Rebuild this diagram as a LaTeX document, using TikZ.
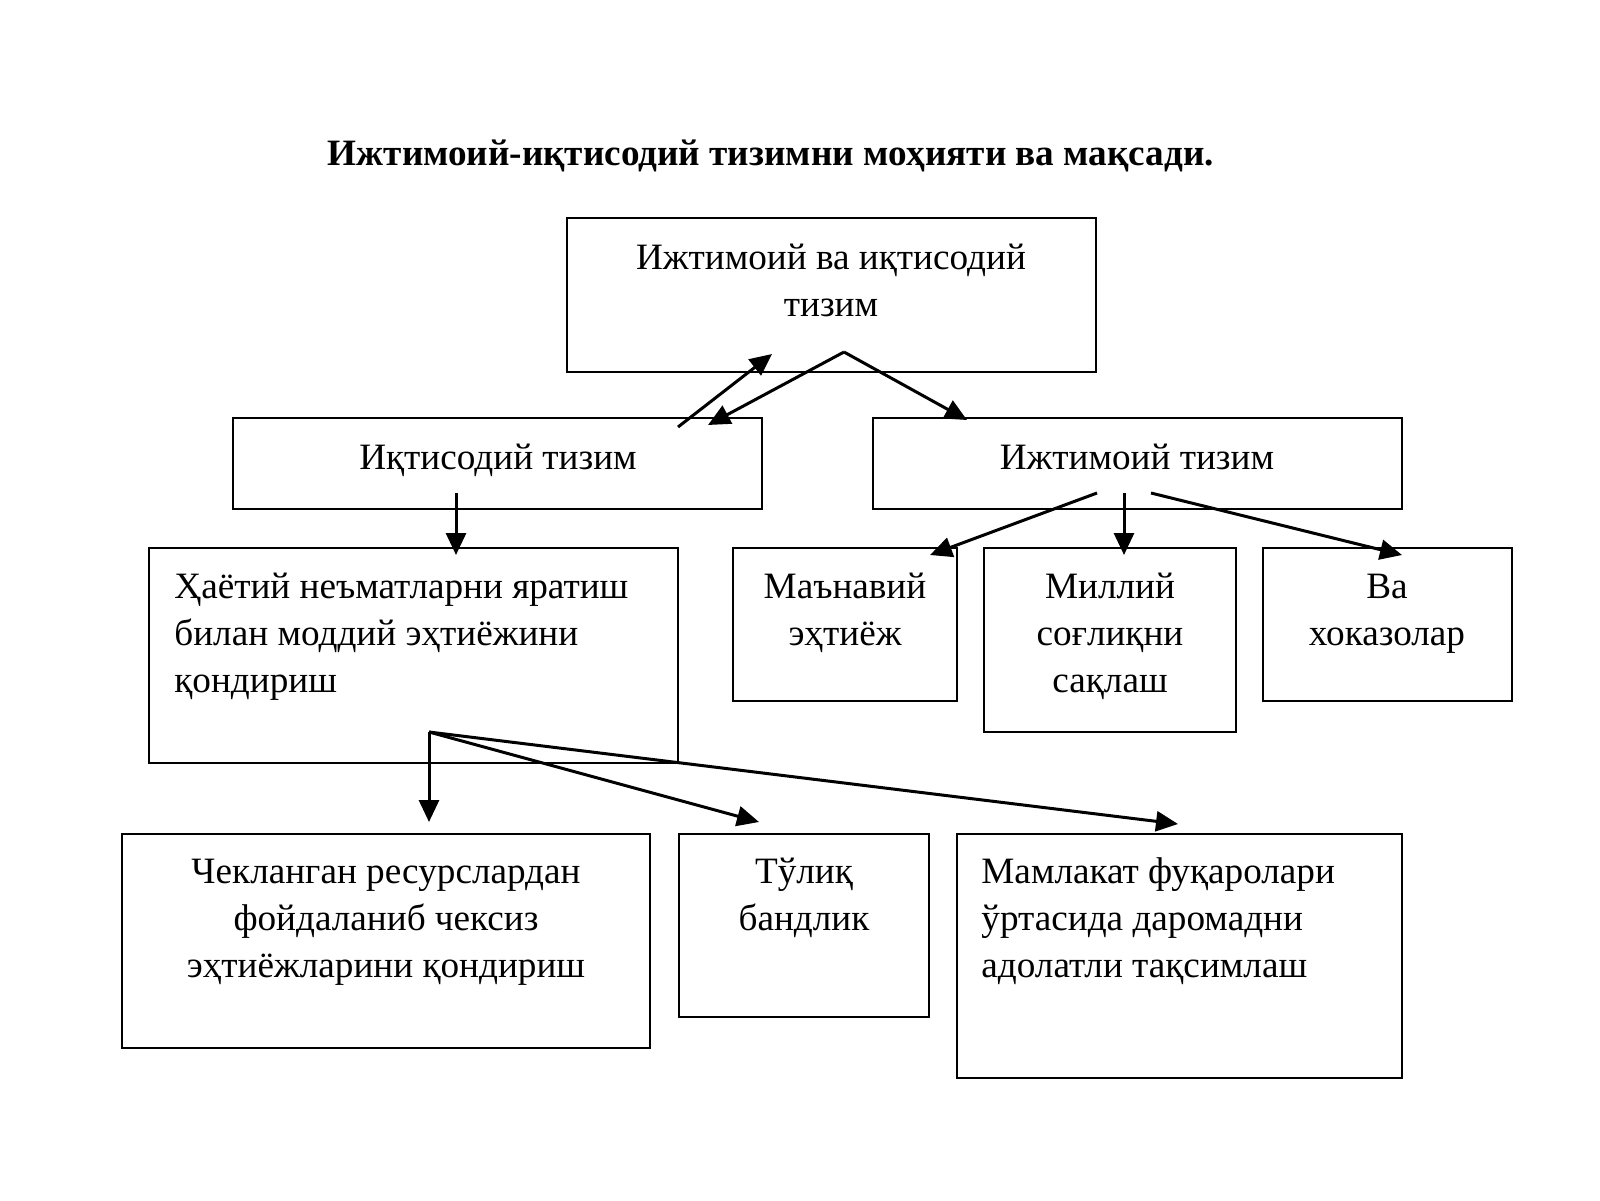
\documentclass[tikz,border=0pt]{standalone}
\usepackage{fontspec}
\setmainfont{Liberation Serif}
\usetikzlibrary{arrows.meta,fit}
\begin{document}
\begin{tikzpicture}[x=0.5pt,y=-0.5pt,
  box/.style={draw,line width=1.2pt,inner sep=0pt},
  txt/.style={font=\fontsize{18.6}{23.5}\selectfont,inner sep=0pt,align=center,anchor=base},
  ltxt/.style={txt,align=left,anchor=base west},
  arr/.style={line width=1.5pt,-{Triangle[length=11pt,width=10pt]}}]
\fill[white] (0,0) rectangle (1600,1200);
\useasboundingbox (0,0) rectangle (1600,1200);
% title
\node[font=\bfseries\fontsize{18.6}{22}\selectfont,inner sep=0pt,anchor=base] (title) at (771,165)
  {Ижтимоий-иқтисодий тизимни моҳияти ва мақсади.};
% boxes
\node[box,fit={(567,218) (1096,372)}] (top) {};
\node[box,fit={(233,418) (762,509)}] (iqt) {};
\node[box,fit={(873,418) (1402,509)}] (ijt) {};
\node[box,fit={(149,548) (678,763)}] (hay) {};
\node[box,fit={(733,548) (957,701)}] (man) {};
\node[box,fit={(984,548) (1236,732)}] (mil) {};
\node[box,fit={(1263,548) (1512,701)}] (va) {};
\node[box,fit={(122,834) (650,1048)}] (chek) {};
\node[box,fit={(679,834) (929,1017)}] (tul) {};
\node[box,fit={(957,834) (1402,1078)}] (mam) {};
% texts (anchor = baseline of the last line)
\node[txt] (ttop) at (831,316) {Ижтимоий ва иқтисодий\\тизим};
\node[txt] (tiqt) at (498,469) {Иқтисодий тизим};
\node[txt] (tijt) at (1137,469) {Ижтимоий тизим};
\node[ltxt] (thay) at (174,692) {Ҳаётий неъматларни яратиш\\билан моддий эҳтиёжини\\қондириш};
\node[txt] (tman) at (845,645) {Маънавий\\эҳтиёж};
\node[txt] (tmil) at (1110,692) {Миллий\\соғлиқни\\сақлаш};
\node[txt] (tva) at (1387,645) {Ва\\хоказолар};
\node[txt] (tchek) at (386,977) {Чекланган ресурслардан\\фойдаланиб чексиз\\эҳтиёжларини қондириш};
\node[txt] (ttul) at (804,930) {Тўлиқ\\бандлик};
\node[ltxt] (tmam) at (981,977) {Мамлакат фуқаролари\\ўртасида даромадни\\адолатли тақсимлаш};
% connector points
\coordinate (apex) at (844,352);
\coordinate (upS) at (678,427);
\coordinate (upE) at (772,354);
\coordinate (iqtE) at (708,425);
\coordinate (ijtE) at (967,420);
\coordinate (iqtS) at (456,493);
\coordinate (hayE) at (456,555);
\coordinate (s1) at (1097,493);
\coordinate (manE) at (930,555);
\coordinate (s2) at (1124,493);
\coordinate (milE) at (1124,555);
\coordinate (s3) at (1151,493);
\coordinate (vaE) at (1402,555);
\coordinate (hayS) at (429,732);
\coordinate (chekE) at (429,822);
\coordinate (tulE) at (759,822);
\coordinate (mamE) at (1178,824);
% connectors
\draw[arr] (upS) -- (upE);
\draw[arr] (apex) -- (iqtE);
\draw[arr] (apex) -- (ijtE);
\draw[arr] (iqtS) -- (hayE);
\draw[arr] (s1) -- (manE);
\draw[arr] (s2) -- (milE);
\draw[arr] (s3) -- (vaE);
\draw[arr] (hayS) -- (chekE);
\draw[arr] (hayS) -- (tulE);
\draw[arr] (hayS) -- (mamE);
\end{tikzpicture}
\end{document}
